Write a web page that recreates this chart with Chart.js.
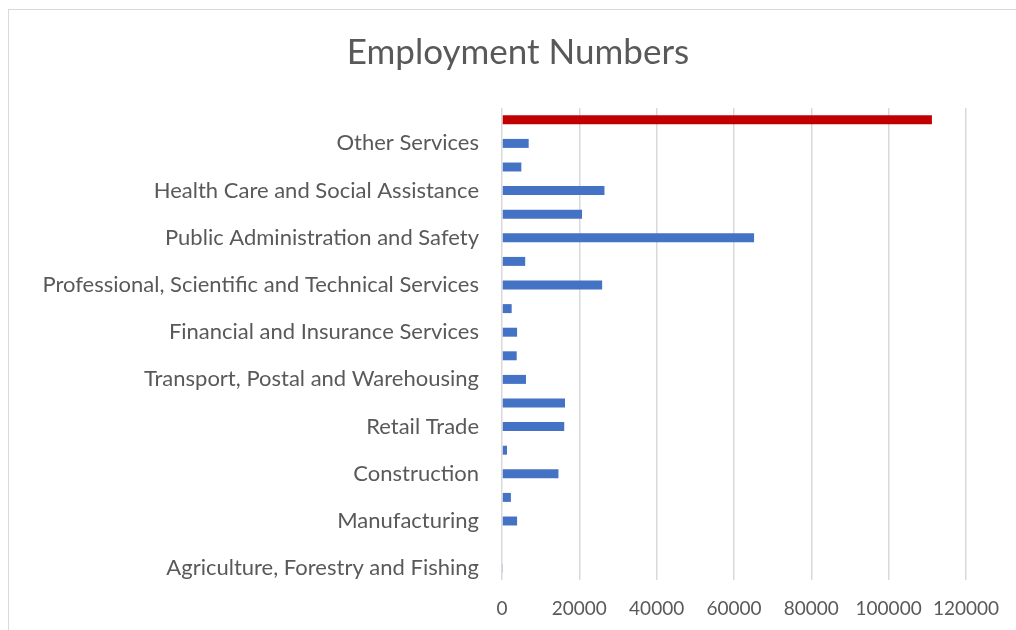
<!DOCTYPE html>
<html>
<head>
<meta charset="utf-8">
<title>Employment Numbers</title>
<script src="https://cdn.jsdelivr.net/npm/chart.js@4.4.1/dist/chart.umd.min.js"></script>
<style>
    html, body { margin: 0; padding: 0; background: #fff; overflow: hidden; }
    .frame { position: absolute; left: 8px; top: 9px; width: 1100px; height: 700px; border: 1.5px solid #d9d9d9; }
    .wrap { position: absolute; left: 0; top: 0; width: 1016px; height: 630px; }
</style>
</head>
<body>
<div class="frame"></div>
<div class="wrap"><canvas id="chart"></canvas></div>
<script>
// categories listed bottom to top, as in the sheet
const industries = [
    'Agriculture, Forestry and Fishing',
    'Mining',
    'Manufacturing',
    'Electricity, Gas, Water and Waste Services',
    'Construction',
    'Wholesale Trade',
    'Retail Trade',
    'Accommodation and Food Services',
    'Transport, Postal and Warehousing',
    'Information Media and Telecommunications',
    'Financial and Insurance Services',
    'Rental, Hiring and Real Estate Services',
    'Professional, Scientific and Technical Services',
    'Administrative and Support Services',
    'Public Administration and Safety',
    'Education and Training',
    'Health Care and Social Assistance',
    'Arts and Recreation Services',
    'Other Services',
    'Total'
];
const employed = [
    250, 0, 3900, 2300, 14600, 1300, 16100, 16300, 6200, 3800,
    3900, 2500, 25900, 6000, 65200, 20700, 26500, 5000, 6900, 111200
];
const xTicks = [0, 20000, 40000, 60000, 80000, 100000, 120000];

const BLUE = '#4472C4';
const RED = '#C00000';
const TEXT = '#595959';

const barColors = industries.map(name => name === 'Total' ? RED : BLUE);

// the Excel title is centred on the whole frame, not on the chart box
const shiftTitle = {
    id: 'shiftTitle',
    afterLayout(chart) {
        if (chart.titleBlock) {
            chart.titleBlock.left = 69;
        }
    }
};

const ctx = document.getElementById('chart').getContext('2d');
new Chart(ctx, {
    type: 'bar',
    data: {
        labels: industries,
        datasets: [{
            label: 'Employment',
            data: employed,
            backgroundColor: barColors,
            borderWidth: 0,
            barPercentage: 0.38,
            categoryPercentage: 1
        }]
    },
    options: {
        indexAxis: 'y',
        responsive: true,
        maintainAspectRatio: false,
        animation: false,
        layout: { padding: { left: 0, right: 49, top: 0, bottom: 0 } },
        plugins: {
            legend: { display: false },
            tooltip: { enabled: false },
            title: {
                display: true,
                text: 'Employment Numbers',
                color: TEXT,
                font: { family: 'Lato', size: 35, weight: 'normal' },
                padding: { top: 32, bottom: 34 }
            }
        },
        scales: {
            x: {
                min: 0,
                max: 120000,
                afterBuildTicks: (scale) => { scale.ticks = xTicks.map(v => ({ value: v })); },
                afterFit: (scale) => { scale.height = 50; },
                grid: { color: '#d9d9d9', lineWidth: 1.5, drawTicks: false },
                border: { display: false },
                ticks: {
                    color: TEXT,
                    padding: 17,
                    font: { family: 'Lato', size: 19 },
                    callback: (v) => String(v)
                }
            },
            y: {
                reverse: true,
                afterFit: (scale) => { scale.width = 502; },
                grid: { display: false, drawTicks: false },
                border: { display: false },
                ticks: {
                    autoSkip: false,
                    color: TEXT,
                    padding: 23,
                    font: { family: 'Lato', size: 22 },
                    callback: function (val, i) {
                        return i % 2 === 0 ? this.getLabelForValue(val) : '';
                    }
                }
            }
        }
    },
    plugins: [shiftTitle]
});
</script>
</body>
</html>
